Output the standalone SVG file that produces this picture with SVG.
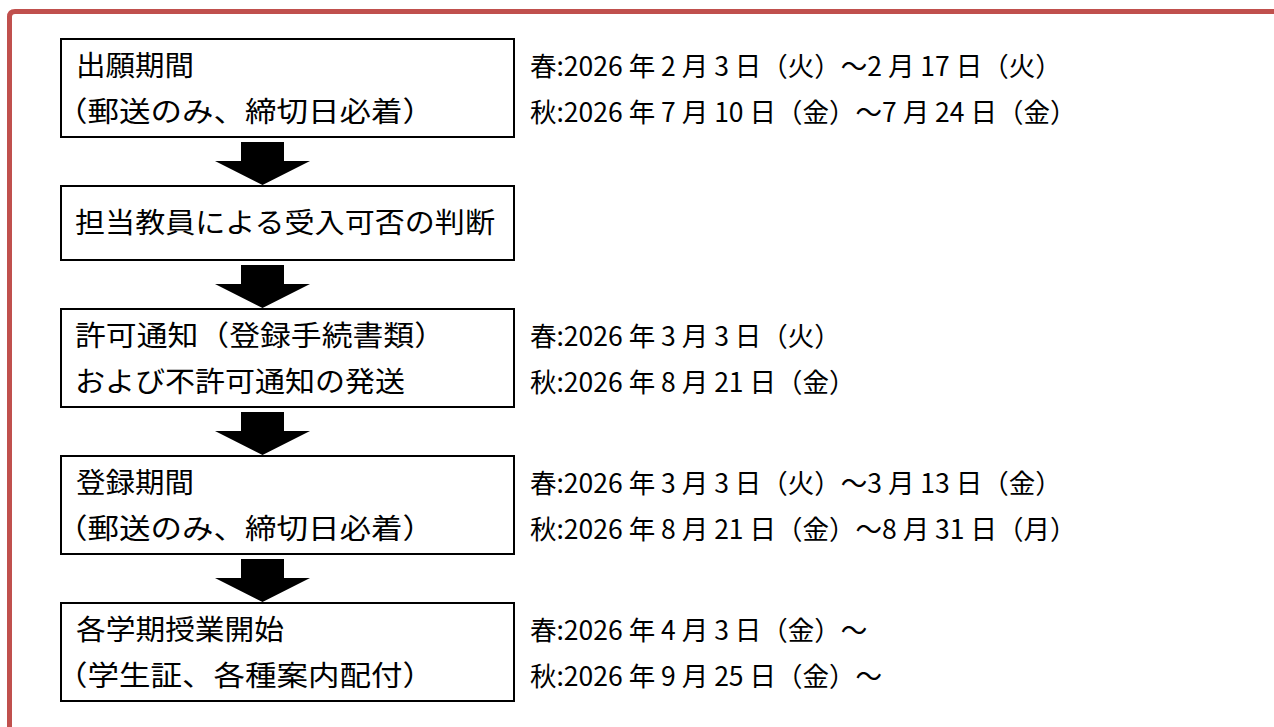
<svg xmlns="http://www.w3.org/2000/svg" width="1274" height="727" viewBox="0 0 1274 727">
<style>
.frame{fill:none;stroke:#C0504D;stroke-width:5}
.box{fill:#fff;stroke:#000;stroke-width:2}
.t{font-family:"Noto Sans CJK JP","Liberation Sans",sans-serif;font-size:28px;fill:#000}
.d{font-family:"Noto Sans CJK JP","Liberation Sans",sans-serif;font-size:26.5px;fill:#000}
.arrow{fill:#000}
</style>
<rect width="1274" height="727" fill="#fff"/>
<path class="frame" d="M9.5,727 V17 Q9.5,11.5 15,11.5 H1274"/>
<g id="connectors">
<polygon class="arrow" points="241,142 284,142 284,161 310,161 262.5,185 215,161 241,161"/>
<polygon class="arrow" points="241,265 284,265 284,284 310,284 262.5,308 215,284 241,284"/>
<polygon class="arrow" points="241,412 284,412 284,431 310,431 262.5,455 215,431 241,431"/>
<polygon class="arrow" points="241,559 284,559 284,578 310,578 262.5,602 215,578 241,578"/>
</g>
<g id="node1">
<rect class="box" x="61" y="39" width="453" height="98"/>
<text class="t" x="76" y="76" textLength="118" lengthAdjust="spacingAndGlyphs">出願期間</text>
<text class="t" x="56" y="122" textLength="378" lengthAdjust="spacingAndGlyphs">（郵送のみ、締切日必着）</text>
</g>
<g id="date1">
<text class="d" x="530" y="76">春:2026 年 2 月 3 日（火）～2 月 17 日（火）</text>
<text class="d" x="530" y="122">秋:2026 年 7 月 10 日（金）～7 月 24 日（金）</text>
</g>
<g id="node2">
<rect class="box" x="61" y="186" width="453" height="74"/>
<text class="t" x="75" y="233" textLength="420" lengthAdjust="spacingAndGlyphs">担当教員による受入可否の判断</text>
</g>
<g id="node3">
<rect class="box" x="61" y="309" width="453" height="98"/>
<text class="t" x="75" y="346" textLength="370" lengthAdjust="spacingAndGlyphs">許可通知（登録手続書類）</text>
<text class="t" x="75" y="392" textLength="330" lengthAdjust="spacingAndGlyphs">および不許可通知の発送</text>
</g>
<g id="date3">
<text class="d" x="530" y="346">春:2026 年 3 月 3 日（火）</text>
<text class="d" x="530" y="392">秋:2026 年 8 月 21 日（金）</text>
</g>
<g id="node4">
<rect class="box" x="61" y="456" width="453" height="98"/>
<text class="t" x="76" y="493" textLength="118" lengthAdjust="spacingAndGlyphs">登録期間</text>
<text class="t" x="56" y="539" textLength="378" lengthAdjust="spacingAndGlyphs">（郵送のみ、締切日必着）</text>
</g>
<g id="date4">
<text class="d" x="530" y="493">春:2026 年 3 月 3 日（火）～3 月 13 日（金）</text>
<text class="d" x="530" y="539">秋:2026 年 8 月 21 日（金）～8 月 31 日（月）</text>
</g>
<g id="node5">
<rect class="box" x="61" y="603" width="453" height="98"/>
<text class="t" x="76" y="640" textLength="208" lengthAdjust="spacingAndGlyphs">各学期授業開始</text>
<text class="t" x="56" y="686" textLength="378" lengthAdjust="spacingAndGlyphs">（学生証、各種案内配付）</text>
</g>
<g id="date5">
<text class="d" x="530" y="640">春:2026 年 4 月 3 日（金）～</text>
<text class="d" x="530" y="686">秋:2026 年 9 月 25 日（金）～</text>
</g>
</svg>
